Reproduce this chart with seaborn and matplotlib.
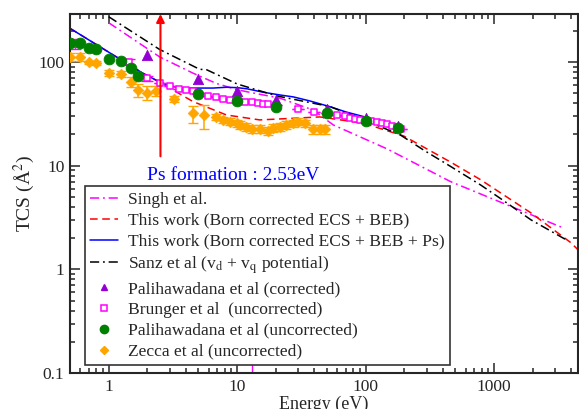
import numpy as np
import pandas as pd
import matplotlib
matplotlib.use("Agg")
import matplotlib.pyplot as plt
import seaborn as sns
from matplotlib.lines import Line2D

# ---------------- data ----------------
singh_E = [1, 2.49, 4.53, 6.9, 10, 11.8, 21.6, 39, 56, 147, 460, 3500]
singh_T = [239, 112, 78, 62, 54, 51.7, 44.7, 34.4, 24.7, 14.5, 7.0, 2.49]

beb_E = [0.5, 1.84, 2.49, 2.98, 4.53, 8.25, 15, 27, 44, 97, 198, 300, 460, 787, 1937, 3976, 4600]
beb_T = [211, 78, 64, 56, 41.5, 30.8, 27.6, 28.6, 29.5, 25.6, 19.3, 14.5, 10.8, 7.3, 3.5, 1.8, 1.5]

ps_E = [0.5, 1.84, 2.49, 3.0, 3.57, 4.53, 6.5, 8.25, 10, 12, 16, 21.6, 27.4, 37, 52.8, 70, 96.6]
ps_T = [211, 78, 64, 59, 56, 56, 56, 57, 56.5, 55, 51, 48, 46, 42, 37, 33, 29.7]

sanz_E = [1, 2.49, 5.1, 5.8, 10, 20.4, 52.8, 90.6, 186, 281, 460, 787, 1100, 1937, 3770]
sanz_T = [273, 132, 85, 84, 61.3, 47, 37.1, 28.6, 19.8, 14.2, 9.8, 6.5, 4.9, 3.0, 1.88]

palc_E = [2, 5, 10, 20, 50, 100, 178]
palc_T = [117, 68.5, 52.8, 43, 35, 28.6, 24.1]

brun_E = [0.55, 1.45, 2.0, 2.5, 3.0, 3.5, 4.0, 4.5, 5.0, 5.9, 6.9, 7.8, 8.8, 10, 11.5, 13, 14.6, 16,
          17.5, 20, 30, 40, 50, 60, 69, 76, 83, 90, 111, 122, 135, 146, 160, 175, 190]
brun_T = [150, 100, 69.6, 63, 58.6, 54.5, 53.7, 52, 50, 47, 45.5, 44, 43, 42, 41.5, 41, 40, 39.7,
          39, 38.5, 34.8, 33.2, 32, 31, 29.8, 29, 28.4, 27.6, 27.2, 26.3, 25.6, 25, 24.3, 23.6, 22.8]
brun_err = [18, 6, 4, 0, 0, 0, 0, 0, 0, 0, 0, 0, 0, 0, 0, 0, 0, 0,
            0, 0, 0, 0, 0, 0, 0, 0, 0, 0, 0, 0, 0, 0, 0, 0, 0]

palu_E = [0.5, 0.6, 0.7, 0.8, 1.0, 1.25, 1.5, 1.7, 5, 10, 20, 50, 100, 178]
palu_T = [153, 153, 135, 133, 107, 103, 88, 73, 49, 41.6, 37, 32, 27, 22.9]

zec_E = [0.5, 0.6, 0.7, 0.8, 1.0, 1.25, 1.5, 1.7, 2.0, 2.34, 3.2, 4.5, 5.5, 6.9, 7.8, 8.8, 10, 10.5,
         11.8, 13, 15, 17.5, 19, 21.6, 24.2, 27.4, 30, 34, 39, 44, 48]
zec_T = [112, 112, 99, 97, 78, 76, 64.6, 53.7, 50.6, 52.5, 43.7, 32, 30.8, 29.7, 27.6, 26.6, 25.6, 24.7,
         23.8, 22.6, 22.5, 21.8, 23.3, 23.8, 24.7, 25.6, 26.6, 25.6, 22.4, 22.4, 22.4]
zec_err = [10, 11, 4, 4, 5, 5, 7, 8, 8, 6, 3, 6, 8, 2, 2, 2, 2, 2,
           2, 2, 2, 2, 2, 2, 2, 2, 2, 2, 2, 2, 2]

ps_threshold = 2.53

# ---------------- style ----------------
sns.set_style("ticks")
plt.rcParams["font.family"] = ["Liberation Serif", "DejaVu Serif"]
plt.rcParams["mathtext.fontset"] = "stix"

fig = plt.figure(figsize=(5.79, 4.09), dpi=100)
ax = fig.add_axes([70/579, 1-373/409, 508/579, 359/409])

lw = 1.1
sns.lineplot(x=singh_E, y=singh_T, ax=ax, color="#FF00FF", lw=lw, sort=False)
ax.lines[-1].set_dashes([6, 2.5, 1.2, 2.5])
sns.lineplot(x=beb_E, y=beb_T, ax=ax, color="#FF0000", lw=lw, sort=False)
ax.lines[-1].set_dashes([5, 3])
sns.lineplot(x=ps_E, y=ps_T, ax=ax, color="#0000FF", lw=lw, sort=False)
sns.lineplot(x=sanz_E, y=sanz_T, ax=ax, color="black", lw=lw, sort=False)
ax.lines[-1].set_dashes([6, 2.5, 1.2, 2.5])

# small magenta vertical mark near bottom
ax.plot([13, 13], [0.1, 0.5], color="#FF00FF", lw=1.0, zorder=1)

# data with error bars
ax.errorbar(zec_E, zec_T, yerr=zec_err, fmt="none", ecolor="#FFA500", elinewidth=1.1, capsize=3.5, zorder=2)
sns.scatterplot(x=zec_E, y=zec_T, ax=ax, marker="D", s=30, color="#FFA500", edgecolor="#FFA500", zorder=3)

ax.errorbar(brun_E, brun_T, yerr=brun_err, fmt="none", ecolor="#FF00FF", elinewidth=1.0, capsize=4, zorder=2)
sns.scatterplot(x=brun_E, y=brun_T, ax=ax, marker="s", s=22, facecolor="white", edgecolor="#FF00FF",
                linewidth=1.1, zorder=3)

sns.scatterplot(x=palc_E, y=palc_T, ax=ax, marker="^", s=55, color="#9400D3", edgecolor="#9400D3", zorder=4)
sns.scatterplot(x=palu_E, y=palu_T, ax=ax, marker="o", s=60, color="#008000", edgecolor="#008000", zorder=5)

ax.set_xscale("log")
ax.set_yscale("log")
ax.set_xlim(0.5, 4500)
ax.set_ylim(0.1, 290)

# Ps formation arrow
ax.annotate("", xy=(ps_threshold, 1.0), xycoords=("data", "axes fraction"),
            xytext=(ps_threshold, 12.3), textcoords="data",
            arrowprops=dict(arrowstyle="-|>", color="#FF0000", lw=1.5, mutation_scale=12,
                            shrinkA=0, shrinkB=0), zorder=6)
ax.text(2.0, 8.1, "Ps formation : 2.53eV", color="#0000FF", fontsize=14, va="center", ha="left")

# ticks / spines
for s in ax.spines.values():
    s.set_linewidth(1.5)
    s.set_visible(True)
ax.tick_params(which="both", direction="in", top=True, right=True, labelsize=12.5, width=1.1)
ax.tick_params(which="major", length=7, pad=4)
ax.tick_params(which="minor", length=3.5)
ax.set_xticks([1, 10, 100, 1000])
ax.set_xticklabels(["1", "10", "100", "1000"])
ax.set_yticks([0.1, 1, 10, 100])
ax.set_yticklabels(["0.1", "1", "10", "100"])

ax.set_xlabel("Energy (eV)", fontsize=13, labelpad=1)
ax.set_ylabel("TCS (Å$^2$)", fontsize=14, labelpad=1)

# legend
handles = [
    Line2D([], [], color="#FF00FF", lw=lw, dashes=[6, 2.5, 1.2, 2.5]),
    Line2D([], [], color="#FF0000", lw=lw, dashes=[5, 3]),
    Line2D([], [], color="#0000FF", lw=lw),
    Line2D([], [], color="black", lw=lw, dashes=[6, 2.5, 1.2, 2.5]),
    Line2D([], [], ls="none", marker="^", color="#9400D3", ms=5),
    Line2D([], [], ls="none", marker="s", mfc="white", mec="#FF00FF", ms=4, mew=1.1),
    Line2D([], [], ls="none", marker="o", color="#008000", ms=6),
    Line2D([], [], ls="none", marker="D", color="#FFA500", ms=4),
]
labels = [
    "Singh et al.",
    "This work (Born corrected ECS + BEB)",
    "This work (Born corrected ECS + BEB + Ps)",
    r"Sanz et al (v$_\mathrm{d}$ + v$_\mathrm{q}$ potential)",
    "Palihawadana et al (corrected)",
    "Brunger et al  (uncorrected)",
    "Palihawadana et al (uncorrected)",
    "Zecca et al (uncorrected)",
]
leg = ax.legend(handles, labels, loc="lower left", bbox_to_anchor=(0.03, 0.022), borderaxespad=0,
                fontsize=12.6, frameon=True, fancybox=False, framealpha=1, edgecolor="#333333",
                handlelength=1.6, handletextpad=0.55, labelspacing=0.27, borderpad=0.3)
leg.get_frame().set_linewidth(1.2)
leg.set_zorder(10)

fig.savefig("out.png", dpi=100)
